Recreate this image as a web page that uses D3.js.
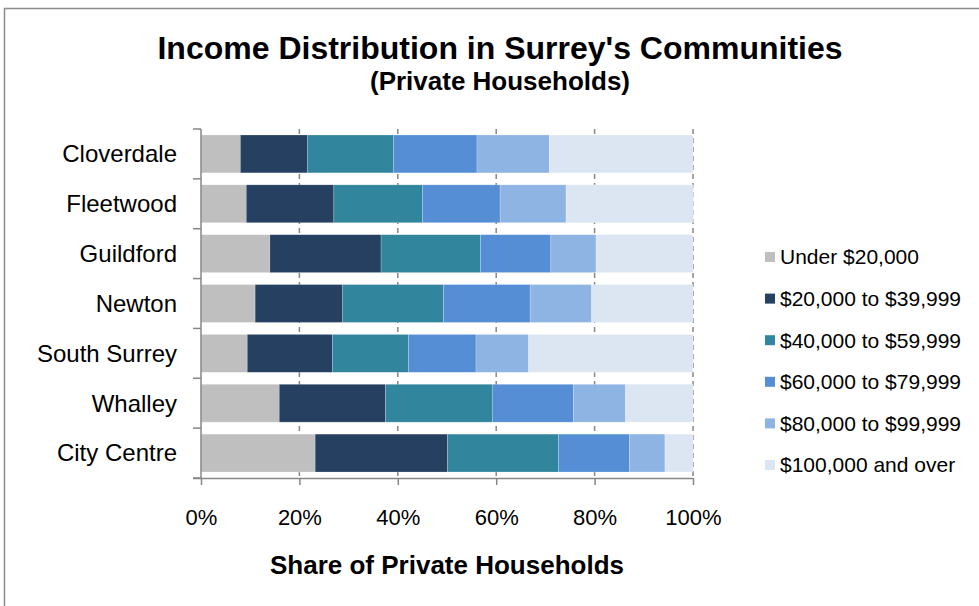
<!DOCTYPE html>
<html>
<head>
<meta charset="utf-8">
<script src="https://cdn.jsdelivr.net/npm/d3@7"></script>
<style>
  html, body { margin: 0; padding: 0; background: #fff; }
  svg { display: block; font-family: "Liberation Sans", Arial, sans-serif; }
</style>
</head>
<body>
<svg id="chart" width="979" height="606"></svg>
<script>
// Communities, top to bottom
const communities = ["Cloverdale", "Fleetwood", "Guildford", "Newton", "South Surrey", "Whalley", "City Centre"];

// Income brackets (stack order, left to right)
const brackets = ["Under $20,000", "$20,000 to $39,999", "$40,000 to $59,999",
                  "$60,000 to $79,999", "$80,000 to $99,999", "$100,000 and over"];

// Share of private households (%) per bracket, one array per bracket, in community order
const under20k   = [8.0, 9.2, 14.0, 11.0, 9.4, 15.9, 23.2];
const from20to40 = [13.6, 17.8, 22.6, 17.8, 17.3, 21.6, 26.9];
const from40to60 = [17.5, 18.0, 20.2, 20.5, 15.5, 21.7, 22.6];
const from60to80 = [17.0, 15.8, 14.3, 17.6, 13.7, 16.5, 14.4];
const from80to100 = [14.7, 13.4, 9.2, 12.5, 10.7, 10.6, 7.2];
const over100k   = [29.2, 25.9, 19.7, 20.6, 33.4, 13.7, 5.7];

const xTicks = [0, 20, 40, 60, 80, 100];

const colors = ["#BFBFBF", "#254061", "#31859C", "#558ED5", "#8EB4E3", "#DCE6F2"];

const seriesValues = [under20k, from20to40, from40to60, from60to80, from80to100, over100k];
const rows = communities.map((c, i) => {
  const r = { community: c };
  brackets.forEach((b, j) => { r[b] = seriesValues[j][i]; });
  return r;
});

const svg = d3.select("#chart");

// outer frame
svg.append("rect").attr("x", 4.5).attr("y", 8.5).attr("width", 1000).attr("height", 1000)
  .attr("fill", "none").attr("stroke", "#8c8c8c").attr("stroke-width", 1.5);

const plot = { left: 201, right: 693, top: 129, bottom: 478 };

const x = d3.scaleLinear().domain([0, 100]).range([plot.left, plot.right]);
const y = d3.scaleBand().domain(communities).range([plot.top, plot.bottom]).paddingInner(0.24).paddingOuter(0.12);
const yEdges = d3.scaleBand().domain(communities).range([plot.top, plot.bottom]);

// dashed vertical gridlines
svg.append("g").selectAll("line").data(xTicks.filter(t => t > 0)).join("line")
  .attr("x1", d => x(d)).attr("x2", d => x(d))
  .attr("y1", plot.top).attr("y2", plot.bottom)
  .attr("stroke", "#868686").attr("stroke-width", 1.5).attr("stroke-dasharray", "5,4");

// stacked bars
const stack = d3.stack().keys(brackets);
const layers = stack(rows);
svg.append("g").selectAll("g").data(layers).join("g")
  .attr("fill", (d, i) => colors[i])
  .selectAll("rect").data(d => d).join("rect")
  .attr("x", d => x(d[0]))
  .attr("width", d => x(d[1]) - x(d[0]))
  .attr("y", d => y(d.data.community))
  .attr("height", y.bandwidth())
  .attr("stroke", "rgba(255,255,255,0.35)").attr("stroke-width", 0.6);

// y axis line and ticks at band edges
const yAxisG = svg.append("g");
yAxisG.append("line").attr("x1", plot.left).attr("x2", plot.left)
  .attr("y1", plot.top).attr("y2", plot.bottom).attr("stroke", "#868686").attr("stroke-width", 1.5);
const edges = communities.map(c => yEdges(c)).concat([plot.bottom]);
yAxisG.selectAll("line.tk").data(edges).join("line").attr("class", "tk")
  .attr("x1", plot.left - 8).attr("x2", plot.left).attr("y1", d => d).attr("y2", d => d)
  .attr("stroke", "#868686").attr("stroke-width", 1.5);

// category labels
svg.append("g").selectAll("text").data(communities).join("text")
  .attr("x", 177).attr("y", d => yEdges(d) + yEdges.bandwidth() / 2)
  .attr("dy", "0.35em").attr("text-anchor", "end")
  .attr("font-size", 24).attr("fill", "#000").text(d => d);

// x axis
const xAxis = d3.axisBottom(x).tickValues(xTicks).tickFormat(d => d + "%").tickSize(7);
const xg = svg.append("g").attr("transform", `translate(0,${plot.bottom})`).call(xAxis);
xg.select(".domain").attr("stroke", "#868686").attr("stroke-width", 1.5)
  .attr("d", `M${plot.left - 8},0.5H${plot.right}`);
xg.selectAll(".tick line").attr("stroke", "#868686").attr("stroke-width", 1.5);
xg.selectAll(".tick text").attr("font-size", 22).attr("fill", "#000")
  .attr("y", 47).attr("dy", 0)
  .attr("font-family", "Liberation Sans, Arial, sans-serif");

// titles
svg.append("text").attr("x", 500).attr("y", 59).attr("text-anchor", "middle")
  .attr("font-size", 32).attr("font-weight", "bold").text("Income Distribution in Surrey's Communities");
svg.append("text").attr("x", 500).attr("y", 90).attr("text-anchor", "middle")
  .attr("font-size", 26).attr("font-weight", "bold").text("(Private Households)");
svg.append("text").attr("x", 447).attr("y", 574).attr("text-anchor", "middle")
  .attr("font-size", 26).attr("font-weight", "bold").text("Share of Private Households");

// legend
const legend = svg.append("g").selectAll("g").data(brackets).join("g")
  .attr("transform", (d, i) => `translate(765,${257 + i * 41.6})`);
legend.append("rect").attr("x", 0).attr("y", -5).attr("width", 10).attr("height", 10)
  .attr("fill", (d, i) => colors[i]);
legend.append("text").attr("x", 15).attr("y", 0).attr("dy", "0.35em")
  .attr("font-size", 21).text(d => d);
</script>
</body>
</html>
